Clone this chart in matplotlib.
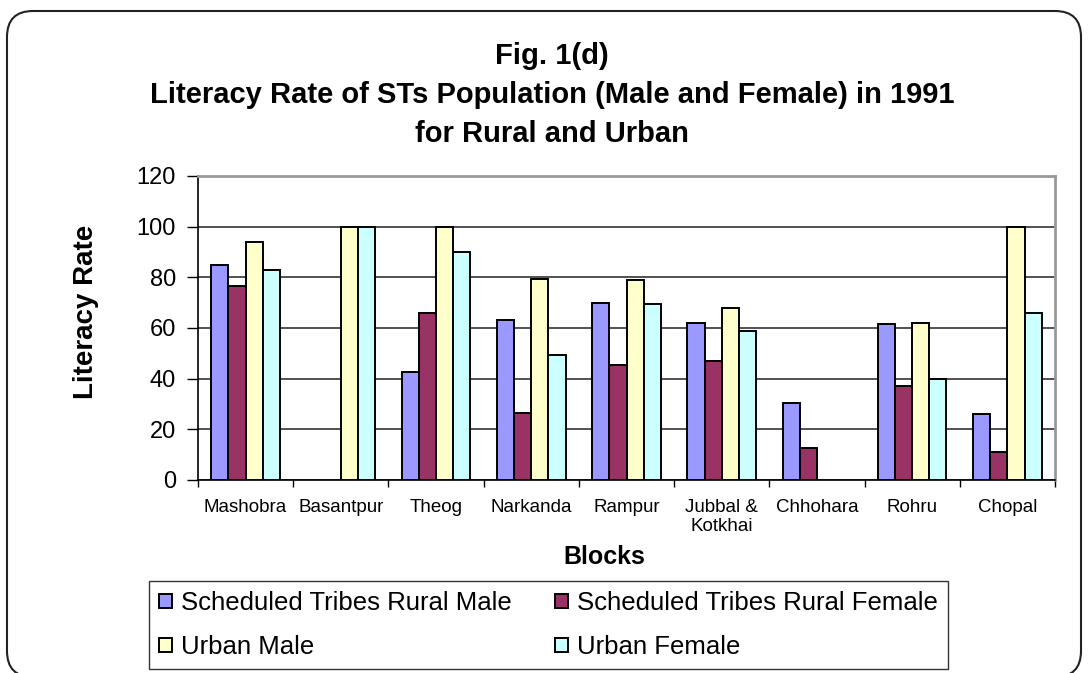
import numpy as np
import matplotlib
matplotlib.use("Agg")
import matplotlib.pyplot as plt
from matplotlib.patches import FancyBboxPatch
from matplotlib.transforms import IdentityTransform

plt.rcParams['font.family'] = ['Liberation Sans', 'DejaVu Sans']

# data
blocks = ["Mashobra", "Basantpur", "Theog", "Narkanda", "Rampur",
          "Jubbal &\nKotkhai", "Chhohara", "Rohru", "Chopal"]
rural_male = [85, 0, 42.5, 63, 70, 62, 30.5, 61.5, 26]
rural_female = [76.5, 0, 66, 26.5, 45.5, 47, 12.5, 37, 11]
urban_male = [94, 100, 100, 79.5, 79, 68, 0, 62, 100]
urban_female = [83, 100, 90, 49.5, 69.5, 59, 0, 40, 66]

labels = ["Scheduled Tribes Rural Male", "Scheduled Tribes Rural Female",
          "Urban Male", "Urban Female"]
colors = ["#9999FF", "#993366", "#FFFFCC", "#CCFFFF"]
values = [rural_male, rural_female, urban_male, urban_female]

W, H = 1089, 673
fig = plt.figure(figsize=(W / 100, H / 100), dpi=100)

# rounded outer frame (pixel coords, origin bottom-left)
frame = FancyBboxPatch((7, H - 677), 1074, 666,
                       boxstyle="round,pad=0,rounding_size=26",
                       transform=IdentityTransform(), fill=False,
                       edgecolor="#222222", linewidth=1.5)
fig.patches.append(frame)

# plot area: x 198..1055, y 176..480 px
ax = fig.add_axes([198 / W, 1 - 480 / H, 857 / W, 304 / H])

x = np.arange(len(blocks))
w = 0.18
handles = []
for i in range(4):
    bars = ax.bar(x + (i - 1.5) * w, values[i], w, color=colors[i], edgecolor="black",
                  linewidth=1.4, label=labels[i], zorder=3)
    for b, v in zip(bars, values[i]):
        if v == 0:
            b.set_visible(False)
    handles.append(bars)

ax.set_xlim(-0.5, len(blocks) - 0.5)
ax.set_ylim(0, 120)
ax.set_yticks(range(0, 121, 20))
ax.yaxis.grid(True, color="#222222", linewidth=1.1, zorder=0)
ax.set_axisbelow(True)

# boundary ticks between categories, names centred under the groups
ax.set_xticks(np.arange(-0.5, len(blocks), 1.0))
ax.set_xticklabels([])
ax.set_xticks(x, minor=True)
ax.set_xticklabels(blocks, minor=True, fontsize=13.5, linespacing=1.15)
ax.tick_params(axis="x", which="minor", length=0, pad=14)
ax.tick_params(axis="x", which="major", length=5, width=1, direction="out")
ax.tick_params(axis="y", length=8, width=1, labelsize=17, pad=8)

for s in ["top", "right"]:
    ax.spines[s].set_color("#999999")
    ax.spines[s].set_linewidth(2)
ax.spines["left"].set_linewidth(1.2)
ax.spines["bottom"].set_linewidth(1.2)

ax.set_ylabel("Literacy Rate", fontsize=20, fontweight="bold")
ax.yaxis.set_label_coords(-0.1155, 0.553)
ax.set_xlabel("Blocks", fontsize=18, fontweight="bold")
ax.xaxis.set_label_coords(0.474, -0.214)

title_lines = ["Fig. 1(d)",
               "Literacy Rate of STs Population (Male and Female) in 1991",
               "for Rural and Urban"]
for line, ypx in zip(title_lines, [56, 95, 134]):
    fig.text(552 / W, 1 - ypx / H, line, ha="center", va="center",
             fontsize=21, fontweight="bold")

# legend fills column-wise, so interleave to get the reference row order
order = [0, 2, 1, 3]
leg = fig.legend([handles[i] for i in order], [labels[i] for i in order],
                 loc="upper left", bbox_to_anchor=(149 / W, 1 - 581 / H),
                 ncol=2, fontsize=18.5, frameon=True, fancybox=False,
                 handlelength=0.5, handleheight=0.5, handletextpad=0.35,
                 borderpad=0.4, borderaxespad=0, columnspacing=1.67,
                 labelspacing=0.77)
leg.get_frame().set_edgecolor("black")
leg.get_frame().set_linewidth(1.0)

fig.savefig("out.png", dpi=100)
